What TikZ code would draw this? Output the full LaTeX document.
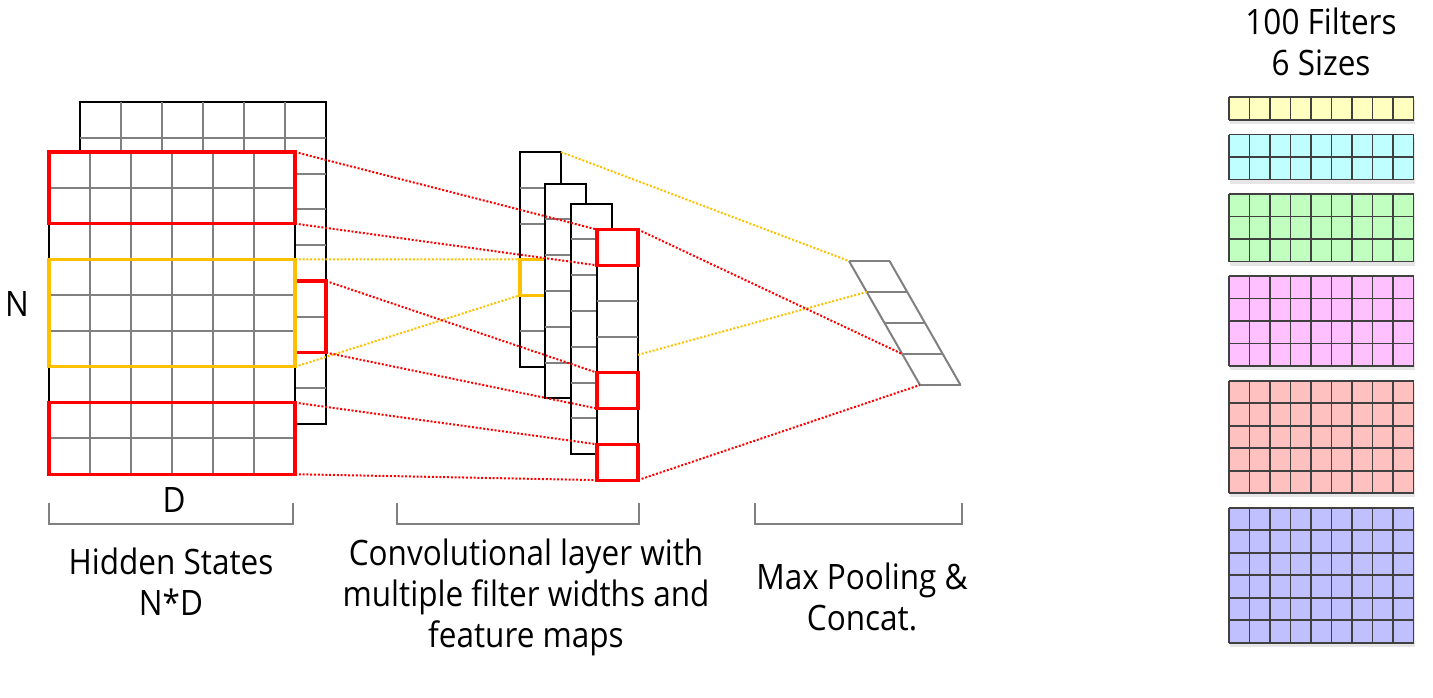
\documentclass[tikz,border=0pt]{standalone}
\usepackage{fontspec}
\setmainfont{Open Sans}[FakeStretch=0.9]
\usetikzlibrary{fit}

\definecolor{hlRed}{RGB}{255,0,0}
\definecolor{hlYellow}{RGB}{255,192,0}
\definecolor{fYellow}{RGB}{255,255,192}
\definecolor{fCyan}{RGB}{192,255,255}
\definecolor{fGreen}{RGB}{192,255,192}
\definecolor{fPink}{RGB}{255,192,255}
\definecolor{fRed}{RGB}{255,192,192}
\definecolor{fBlue}{RGB}{192,192,255}

\tikzset{
  cellline/.style={draw=black!50, line width=1pt},
  mapbox/.style={draw=black, fill=white, line width=1pt, inner sep=0pt, outer sep=0pt},
  redbox/.style={draw=hlRed, line width=1.6pt, inner sep=0pt, outer sep=0pt},
  yellowbox/.style={draw=hlYellow, line width=1.6pt, inner sep=0pt, outer sep=0pt},
  reddot/.style={draw=hlRed, line width=1pt, dash pattern=on 1pt off 0.9pt},
  yellowdot/.style={draw=hlYellow, line width=1pt, dash pattern=on 1pt off 0.9pt},
  poolline/.style={draw=black!50, line width=1pt},
  filterline/.style={draw=black!75, line width=0.9pt},
  bracket/.style={draw=black!50, line width=1pt},
  lbl/.style={font=\fontsize{17.5}{20.5}\selectfont, align=center, inner sep=0pt},
}

\begin{document}
\begin{tikzpicture}[x=0.5pt,y=-0.5pt]
\useasboundingbox (0,0) rectangle (1433,697);

% ---- Hidden states ----
% back layer
\node[mapbox, fit={(80,102) (326,424.2)}] (hsBack) {};
\foreach \i in {1,...,5} \draw[cellline] ({80+41*\i},102) -- ({80+41*\i},424.2);
\foreach \j in {1,...,8} \draw[cellline] (80,{102+35.8*\j}) -- (326,{102+35.8*\j});
\node[redbox, fit={(295,281) (326,352.6)}] (backRed) {};

% front layer
\node[mapbox, fit={(49,152) (295,474.2)}] (hsFront) {};
\foreach \i in {1,...,5} \draw[cellline] ({49+41*\i},152) -- ({49+41*\i},474.2);
\foreach \j in {1,...,8} \draw[cellline] (49,{152+35.8*\j}) -- (295,{152+35.8*\j});
\node[redbox, fit={(49,152) (295,223.6)}] (hsTop) {};
\node[yellowbox, fit={(49,259.4) (295,366.8)}] (hsMid) {};
\node[redbox, fit={(49,402.6) (295,474.2)}] (hsBot) {};

% ---- Feature maps ----
\node[mapbox, fit={(520,152) (561,366.8)}] (fmA) {};
\foreach \j in {1,...,5} \draw[cellline] (520,{152+35.8*\j}) -- (561,{152+35.8*\j});
\node[yellowbox, fit={(520,259.4) (561,295.2)}] (fmAcell) {};

\node[mapbox, fit={(545,183.5) (586,398.3)}] (fmB) {};
\foreach \j in {1,...,5} \draw[cellline] (545,{183.5+35.8*\j}) -- (586,{183.5+35.8*\j});

\node[mapbox, fit={(571,203.5) (612,454.1)}] (fmC) {};
\foreach \j in {1,...,6} \draw[cellline] (571,{203.5+35.8*\j}) -- (612,{203.5+35.8*\j});

\node[mapbox, fit={(597,229.5) (638,480.1)}] (fmD) {};
\foreach \j in {1,...,6} \draw[cellline] (597,{229.5+35.8*\j}) -- (638,{229.5+35.8*\j});
\node[redbox, fit={(597,229.5) (638,265.3)}] (fmDtop) {};
\node[redbox, fit={(597,372.7) (638,408.5)}] (fmDmid) {};
\node[redbox, fit={(597,444.3) (638,480.1)}] (fmDbot) {};

% ---- Max pooling ----
\foreach \k in {0,...,4} {
  \coordinate (pool\k) at ({849+17.75*\k},{261+31*\k});
  \draw[poolline] (pool\k) -- ++(40.5,0);
}
\draw[poolline] (pool0) -- (pool4);
\draw[poolline] (889.5,261) -- (960.5,385);

% ---- Connectors ----
\draw[yellowdot] (hsMid.north east) -- (fmAcell.north west);
\draw[yellowdot] (hsMid.south east) -- (fmAcell.south west);
\draw[yellowdot] (fmA.north east) -- (pool0);
\draw[yellowdot] (fmD.east) -- (pool1);

\draw[reddot] (hsTop.north east) -- (fmDtop.north west);
\draw[reddot] (hsTop.south east) -- (fmDtop.south west);
\draw[reddot] (backRed.north east) -- (fmDmid.north west);
\draw[reddot] (backRed.south east) -- (fmDmid.south west);
\draw[reddot] (hsBot.north east) -- (fmDbot.north west);
\draw[reddot] (hsBot.south east) -- (fmDbot.south west);
\draw[reddot] (fmDtop.north east) -- (pool3);
\draw[reddot] (fmDbot.south east) -- (pool4);

% ---- Brackets and labels ----
\draw[bracket] (49,503) -- (49,524) -- (293,524) -- (293,503);
\draw[bracket] (397,503) -- (397,524) -- (639,524) -- (639,503);
\draw[bracket] (755,503) -- (755,524) -- (961.5,524) -- (961.5,503);

% multi-line labels sit on the baseline of their last line
\node[lbl, anchor=base] (nLabel) at (17,316) {N};
\node[lbl, anchor=base] (dLabel) at (174,512) {D};
\node[lbl, anchor=base] (hsLabel) at (171,615) {Hidden States\\N*D};
\node[lbl, anchor=base] (convLabel) at (526,647) {Convolutional layer with\\multiple filter widths and\\feature maps};
\node[lbl, anchor=base] (poolLabel) at (862,630) {Max Pooling \&\\Concat.};
\node[lbl, anchor=base] (filterLabel) at (1321,75) {100 Filters\\6 Sizes};

% ---- Filter sizes ----
\foreach \ytop/\rows/\col in {97.3/1/fYellow, 134.5/2/fCyan, 194/3/fGreen, 276/4/fPink, 380.7/5/fRed, 507.7/6/fBlue} {
  \fill[black!10] (1230,{\ytop+3}) rectangle (1415,{\ytop+22.5*\rows+4});
  \fill[\col] (1229,\ytop) rectangle (1413.5,{\ytop+22.5*\rows});
  \foreach \i in {0,...,9} \draw[filterline] ({1229+20.5*\i},\ytop) -- ++(0,{22.5*\rows});
  \foreach \j in {0,...,\rows} \draw[filterline] (1229,{\ytop+22.5*\j}) -- (1413.5,{\ytop+22.5*\j});
}

\end{tikzpicture}
\end{document}
